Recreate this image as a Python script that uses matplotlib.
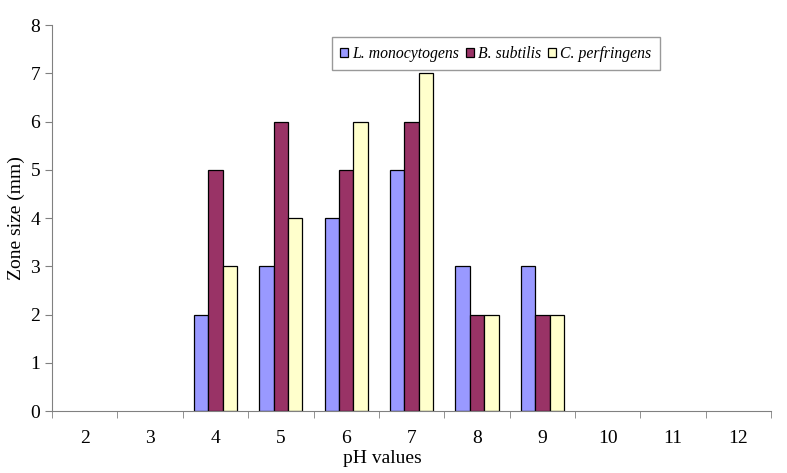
import matplotlib.pyplot as plt
import numpy as np

plt.rcParams['font.family'] = ['Liberation Serif', 'DejaVu Serif']

ph = ['2', '3', '4', '5', '6', '7', '8', '9', '10', '11', '12']
l_mono = [0, 0, 2, 3, 4, 5, 3, 3, 0, 0, 0]
b_sub = [0, 0, 5, 6, 5, 6, 2, 2, 0, 0, 0]
c_perf = [0, 0, 3, 4, 6, 7, 2, 2, 0, 0, 0]

series = [('L. monocytogens', l_mono, '#9999FF'),
          ('B. subtilis', b_sub, '#993366'),
          ('C. perfringens', c_perf, '#FFFFCC')]

fig = plt.figure(figsize=(7.87, 4.73), dpi=100)
ax = fig.add_axes([0.066, 0.131, 0.914, 0.816])

x = np.arange(len(ph))
w = 0.22
for k, (name, vals, col) in enumerate(series):
    # zero-height bars are not drawn in the original
    lw = [0.9 if v > 0 else 0 for v in vals]
    ax.bar(x + (k - 1) * w, vals, w, color=col, edgecolor='black', linewidth=lw, label=name)

ax.set_xlim(-0.5, len(ph) - 0.5)
ax.set_ylim(0, 8)
ax.set_xticks(x)
ax.set_xticklabels(ph, fontsize=14)
ax.set_xticks(np.arange(-0.5, len(ph), 1), minor=True)
ax.tick_params(axis='x', which='major', length=0, pad=14)
ax.tick_params(axis='x', which='minor', length=5, color='#808080', direction='out')
ax.set_yticks(range(0, 9))
ax.tick_params(axis='y', labelsize=14, length=5, color='#808080', direction='out')

for s in ['top', 'right']:
    ax.spines[s].set_visible(False)
for s in ['left', 'bottom']:
    ax.spines[s].set_color('#808080')

ax.set_xlabel('pH values', fontsize=14)
ax.xaxis.set_label_coords(0.46, -0.1)
ax.set_ylabel('Zone size (mm)', fontsize=14, labelpad=4)

leg = ax.legend(loc='upper left', bbox_to_anchor=(0.389, 0.969), ncol=3, borderaxespad=0,
                prop={'style': 'italic', 'size': 11.3}, frameon=True, fancybox=False,
                handlelength=0.5, handleheight=0.5, handletextpad=0.25, columnspacing=0.45,
                borderpad=0.55)
leg.get_frame().set_edgecolor('#808080')
leg.get_frame().set_linewidth(1.0)
for h in leg.legend_handles:
    h.set_linewidth(0.9)

fig.savefig('out.png', dpi=100)
